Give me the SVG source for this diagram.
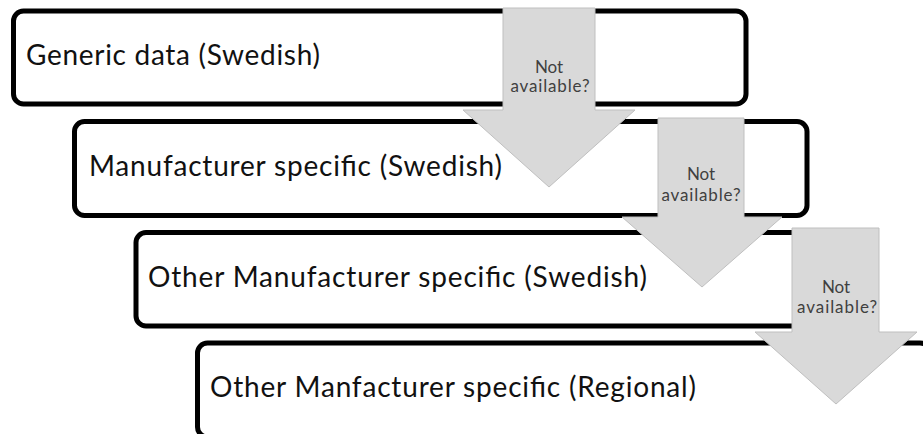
<svg xmlns="http://www.w3.org/2000/svg" width="923" height="434" viewBox="0 0 923 434">
  <style>
    .box { fill: #ffffff; stroke: #000000; stroke-width: 5; }
    .box-label { font-family: Lato, "Open Sans", "Liberation Sans", sans-serif; font-size: 28px; fill: #111111; }
    .arrow { fill: #d9d9d9; stroke: #bfbfbf; stroke-width: 1; }
    .arrow-label { font-family: Lato, "Open Sans", "Liberation Sans", sans-serif; font-size: 17px; fill: #404040; text-anchor: middle; }
  </style>
  <rect width="923" height="434" fill="#ffffff"/>

  <!-- data source tiers, stepping down and to the right -->
  <g id="generic-swedish">
    <rect class="box" x="13.5" y="11" width="732.5" height="93" rx="10"/>
    <text class="box-label" x="26" y="65" textLength="294">Generic data (Swedish)</text>
  </g>
  <g id="manufacturer-swedish">
    <rect class="box" x="74.5" y="121.5" width="732.5" height="94" rx="10"/>
    <text class="box-label" x="89" y="176" textLength="413">Manufacturer specific (Swedish)</text>
  </g>
  <g id="other-manufacturer-swedish">
    <rect class="box" x="136" y="232.5" width="732.5" height="93.5" rx="10"/>
    <text class="box-label" x="148" y="287" textLength="499">Other Manufacturer specific (Swedish)</text>
  </g>
  <g id="other-manufacturer-regional">
    <rect class="box" x="197.5" y="343" width="732.5" height="94" rx="10"/>
    <text class="box-label" x="210" y="397" textLength="486">Other Manfacturer specific (Regional)</text>
  </g>

  <!-- fallback arrows between tiers -->
  <g id="connectors">
    <g id="fallback-1">
      <path class="arrow" d="M503 8 H595 V110 H635 L549 187 L463 110 H503 Z"/>
      <text class="arrow-label" x="549" y="73" textLength="28">Not</text>
      <text class="arrow-label" x="550" y="92" textLength="79">available?</text>
    </g>
    <g id="fallback-2">
      <path class="arrow" d="M658 118 H744 V217 H782 L702 287 L622 217 H658 Z"/>
      <text class="arrow-label" x="701" y="180" textLength="28">Not</text>
      <text class="arrow-label" x="701" y="201" textLength="79">available?</text>
    </g>
    <g id="fallback-3">
      <path class="arrow" d="M792 228 H879 V332 H917 L836 404 L755 332 H792 Z"/>
      <text class="arrow-label" x="836" y="293" textLength="28">Not</text>
      <text class="arrow-label" x="837" y="313" textLength="80">available?</text>
    </g>
  </g>
</svg>
